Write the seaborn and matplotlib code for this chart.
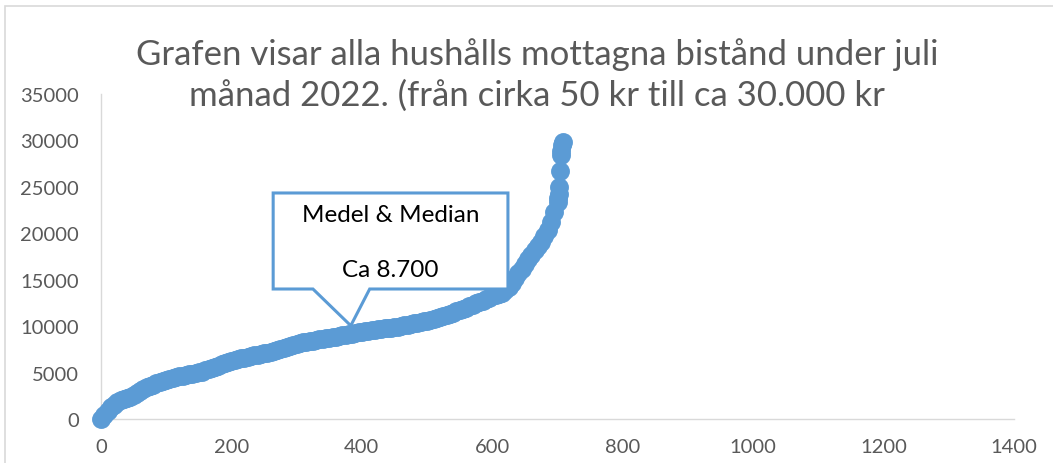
import numpy as np
import pandas as pd
import matplotlib
matplotlib.use("Agg")
import matplotlib.pyplot as plt
import seaborn as sns
from matplotlib.patches import Polygon, Rectangle

# Household support amounts (kr), read every 5th household in sorted order
step = 5
amounts = [
    50, 450, 900, 1250, 1550, 1800, 2000, 2150, 2250, 2400,
    2550, 2850, 3050, 3250, 3400, 3550, 3700, 3850, 4000, 4120,
    4250, 4350, 4450, 4550, 4600, 4680, 4750, 4800, 4880, 4950,
    5020, 5100, 5250, 5350, 5450, 5600, 5750, 5900, 6050, 6150,
    6250, 6350, 6450, 6530, 6600, 6680, 6760, 6840, 6920, 7000,
    7080, 7160, 7250, 7340, 7430, 7520, 7620, 7720, 7850, 7980,
    8100, 8180, 8260, 8320, 8380, 8450, 8520, 8580, 8650, 8710,
    8770, 8830, 8880, 8930, 9000, 9070, 9140, 9200, 9280, 9350,
    9400, 9450, 9500, 9550, 9600, 9650, 9700, 9750, 9800, 9850,
    9900, 9960, 10020, 10080, 10150, 10220, 10300, 10380, 10450, 10520,
    10600, 10700, 10800, 10900, 11000, 11100, 11220, 11340, 11460, 11580,
    11720, 11860, 12000, 12150, 12300, 12450, 12600, 12750, 12900, 13050,
    13200, 13320, 13450, 13600, 13850, 14200, 14700, 15200, 15700, 16200,
    16700, 17200, 17700, 18200, 18600, 19100, 19700, 20400, 21200, 22300,
    23400,
]
# the highest households, read one by one
tail_rank = [701, 702, 703, 704, 705, 706, 707, 708]
tail_amount = [23800, 24200, 25000, 26700, 28400, 28900, 29500, 29800]

xticks = [0, 200, 400, 600, 800, 1000, 1200, 1400]
yticks = [0, 5000, 10000, 15000, 20000, 25000, 30000, 35000]

title = ("Grafen visar alla hushålls mottagna bistånd under juli\n"
         "månad 2022. (från cirka 50 kr till ca 30.000 kr")
callout = ["Medel & Median", "Ca 8.700"]

df = pd.DataFrame({
    "hushall": list(np.arange(len(amounts)) * step) + tail_rank,
    "belopp": amounts + tail_amount,
})

sns.set_style("white")
plt.rcParams["font.family"] = ["Lato", "DejaVu Sans"]

blue = "#5B9BD5"
grey = "#595959"
line = "#D9D9D9"

fig = plt.figure(figsize=(10.53, 4.64), dpi=100)
ax = fig.add_axes([101 / 1053, 1 - 420 / 464, 913 / 1053, 325 / 464])

sns.scatterplot(data=df, x="hushall", y="belopp", ax=ax, color=blue,
                s=185, linewidth=0, clip_on=False, zorder=3)

ax.set_xlim(0, 1400)
ax.set_ylim(0, 35000)
ax.set_xticks(xticks)
ax.set_yticks(yticks)
ax.set_xlabel("")
ax.set_ylabel("")
ax.tick_params(axis="both", length=0, labelsize=14.5, labelcolor=grey)
ax.tick_params(axis="y", pad=16)
ax.tick_params(axis="x", pad=14)
for side in ["top", "right"]:
    ax.spines[side].set_visible(False)
for side in ["left", "bottom"]:
    ax.spines[side].set_color(line)
    ax.spines[side].set_linewidth(1)

# callout box with pointer (data coordinates)
shape = [(264, 24340), (624, 24340), (624, 14000), (412, 14000),
         (383, 10050), (325, 14000), (264, 14000)]
ax.add_patch(Polygon(shape, closed=True, facecolor="white", edgecolor=blue,
                     linewidth=2.2, zorder=4, clip_on=False))
ax.text(444, 21970, callout[0], ha="center", va="center", fontsize=17.5,
        color="black", zorder=5)
ax.text(444, 16150, callout[1], ha="center", va="center", fontsize=17.5,
        color="black", zorder=5)

fig.text(537 / 1053, 1 - 75 / 464, title, ha="center", va="center",
         fontsize=25, fontweight="normal", color=grey, linespacing=1.3)

fig.patches.append(Rectangle((4.5 / 1053, -0.1), 1.2, 1.1 - 6.5 / 464,
                             transform=fig.transFigure, fill=False,
                             edgecolor=line, linewidth=1.2))

fig.savefig("out.png", dpi=100)
